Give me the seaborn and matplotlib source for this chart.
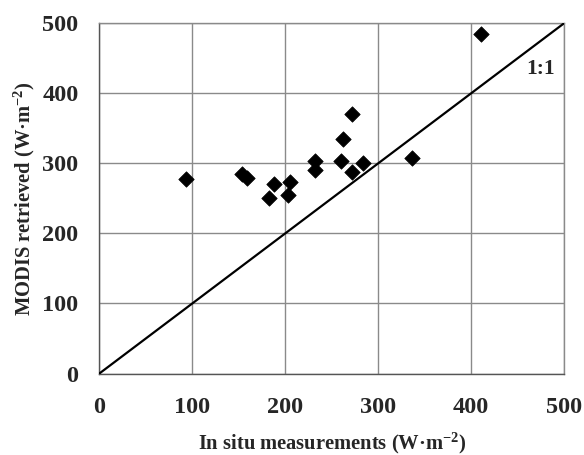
import matplotlib
matplotlib.use("Agg")
import matplotlib.pyplot as plt
import seaborn as sns
import pandas as pd

in_situ = [93, 153, 159, 188, 183, 205, 203.5, 232, 231.5, 262, 260, 271.7, 271.7, 284, 336, 411]
modis = [277, 285, 279, 270, 250, 274, 255, 303, 291, 335, 303, 370, 287, 300, 307, 485]
ticks = [0, 100, 200, 300, 400, 500]
one_to_one = [0, 500]

df = pd.DataFrame({"in_situ": in_situ, "modis": modis})

sns.set_theme(style="white")
plt.rcParams["font.family"] = ["Liberation Serif", "DejaVu Serif"]
plt.rcParams["font.weight"] = "bold"
plt.rcParams["mathtext.fontset"] = "custom"
plt.rcParams["mathtext.rm"] = "Liberation Serif:bold"
plt.rcParams["mathtext.bf"] = "Liberation Serif:bold"
plt.rcParams["mathtext.it"] = "Liberation Serif:bold"

fig = plt.figure(figsize=(5.84, 4.55), dpi=100)
ax = fig.add_axes([0.170, 0.179, 0.796, 0.770])

sns.lineplot(x=one_to_one, y=one_to_one, ax=ax, color="black", linewidth=1.6, zorder=3)
sns.scatterplot(data=df, x="in_situ", y="modis", ax=ax, marker="D", s=62,
                color="black", edgecolor="black", linewidth=0.5, zorder=4)

ax.set_xlim(0, 500)
ax.set_ylim(0, 500)
ax.set_xticks(ticks)
ax.set_yticks(ticks)
ax.set_xticklabels([str(t) for t in ticks], fontsize=17.5, fontweight="bold")
ax.set_yticklabels([str(t) for t in ticks], fontsize=17.5, fontweight="bold")
ax.grid(True, color="#8a8a8a", linewidth=1.0)
ax.set_axisbelow(True)
for side, sp in ax.spines.items():
    sp.set_visible(True)
    sp.set_color("#8a8a8a" if side in ("top", "right") else "#555555")
    sp.set_linewidth(1.0)
ax.tick_params(axis="x", direction="out", length=6, width=1, color="#555555", pad=11)
ax.tick_params(axis="y", direction="out", length=6, width=1, color="#555555", pad=9)

ax.set_xlabel("In situ measurements (W·m$^{\\mathbf{-2}}$)", fontsize=14.8,
              fontweight="bold", labelpad=9)
ax.set_ylabel("MODIS retrieved (W·m$^{\\mathbf{-2}}$)", fontsize=14.8,
              fontweight="bold", labelpad=4)
ax.text(475, 434, "1:1", fontsize=15.5, fontweight="bold", ha="center", va="center")

fig.savefig("out.png", dpi=100)
